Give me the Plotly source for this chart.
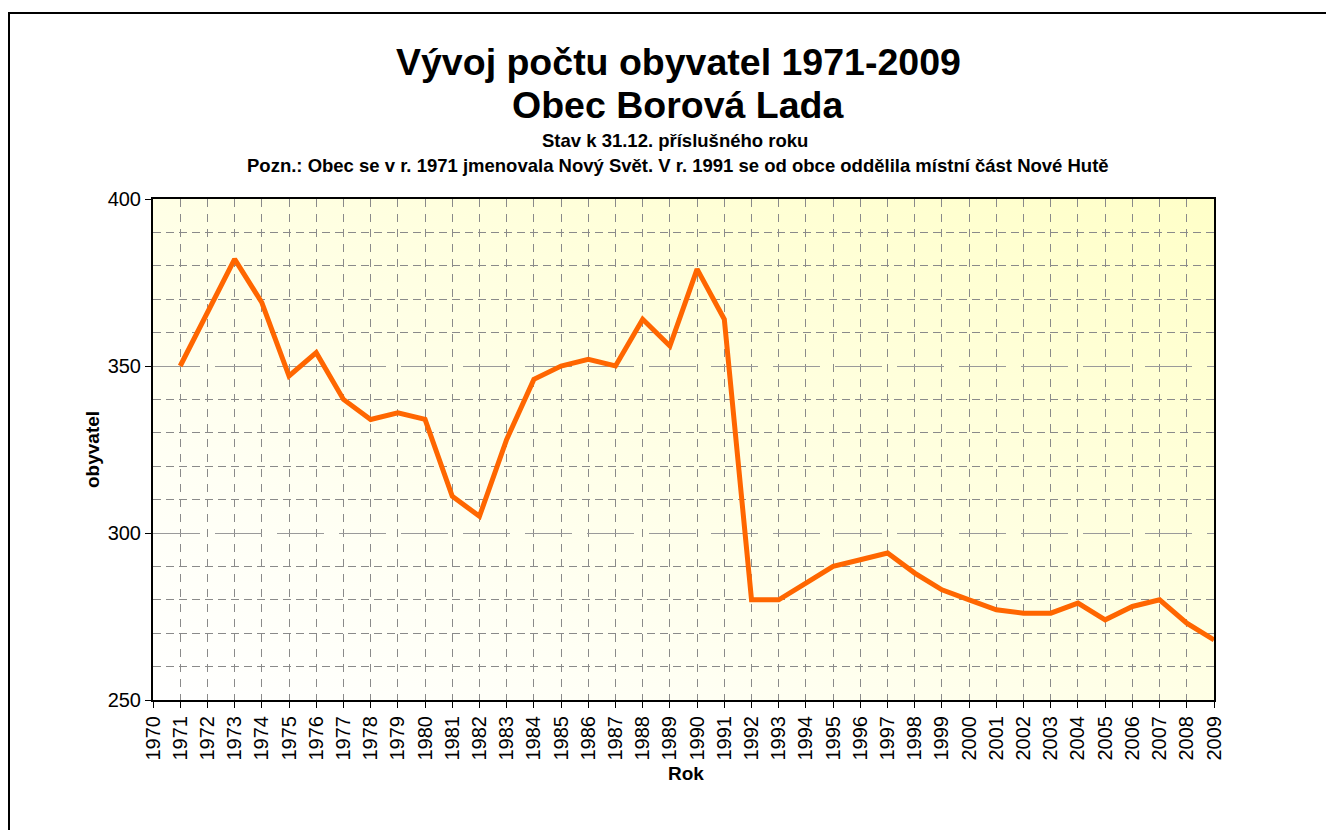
import base64
import plotly.graph_objects as go

years = list(range(1971, 2010))
population = [350, 366, 382, 369, 347, 354, 340, 334, 336, 334,
              311, 305, 328, 346, 350, 352, 350, 364, 356, 379,
              364, 280, 280, 285, 290, 292, 294, 288, 283, 280,
              277, 276, 276, 279, 274, 278, 280, 273, 268]
tick_years = list(range(1970, 2010))
y_ticks = [250, 300, 350, 400]
y_minor = [260, 270, 280, 290, 310, 320, 330, 340, 360, 370, 380, 390]

title1 = "Vývoj počtu obyvatel 1971-2009"
title2 = "Obec Borová Lada"
sub1 = "Stav k 31.12. příslušného roku"
sub2 = "Pozn.: Obec se v r. 1971 jmenovala Nový Svět. V r. 1991 se od obce oddělila místní část Nové Hutě"
x_title = "Rok"
y_title = "obyvatel"

FONT = "Liberation Sans, Arial, sans-serif"
W, H = 1334, 830
OFF = 8  # page body margin
L, T = 153 - OFF, 199 - OFF
pw, ph = 1214 - 153, 700 - 199
R = W - L - pw
B = H - T - ph

def sx(x):
    return (x - OFF - L) / pw

def sy(y):
    return (H - B - (y - OFF)) / ph

svg = ('<svg xmlns="http://www.w3.org/2000/svg" width="100" height="100" preserveAspectRatio="none">'
       '<defs><linearGradient id="g" x1="0" y1="1" x2="1" y2="0">'
       '<stop offset="0" stop-color="#FFFFFF"/><stop offset="0.25" stop-color="#FFFFF4"/>'
       '<stop offset="1" stop-color="#FFFFC8"/>'
       '</linearGradient></defs><rect width="100" height="100" fill="url(#g)"/></svg>')
svg_uri = "data:image/svg+xml;base64," + base64.b64encode(svg.encode()).decode()

fig = go.Figure()
fig.add_trace(go.Scatter(x=years, y=population, mode="lines",
                         line=dict(color="#FF6600", width=5), showlegend=False,
                         hoverinfo="x+y"))

grid_col = "#8a8a8a"

def ann(text, x, y, size, angle=0):
    return dict(text="<b>" + text + "</b>", x=sx(x), y=sy(y), xref="paper", yref="paper",
                showarrow=False, font=dict(size=size), textangle=angle,
                xanchor="center", yanchor="middle")

fig.update_layout(
    width=W, height=H,
    margin=dict(l=L, r=R, t=T, b=B),
    paper_bgcolor="white",
    plot_bgcolor="rgba(0,0,0,0)",
    font=dict(family=FONT, color="black"),
    images=[dict(source=svg_uri, xref="paper", yref="paper", x=0, y=1,
                 sizex=1, sizey=1, sizing="stretch", layer="below",
                 xanchor="left", yanchor="top")],
    xaxis=dict(range=[1970, 2009], tickmode="array", tickvals=tick_years,
               ticktext=[str(v) for v in tick_years], tickangle=-90,
               tickfont=dict(size=20), ticks="outside", ticklen=6, tickcolor="black",
               showline=True, linecolor="black", linewidth=2, mirror=True,
               showgrid=True, gridcolor=grid_col, gridwidth=1, griddash="8px,7px",
               zeroline=False),
    yaxis=dict(range=[250, 400], tickmode="array", tickvals=y_ticks,
               tickfont=dict(size=20), ticks="outside", ticklen=6, tickcolor="black",
               showline=True, linecolor="black", linewidth=2, mirror=True,
               showgrid=True, gridcolor="#9a9a9a", gridwidth=1.3, griddash="47px,15px",
               minor=dict(tickmode="array", tickvals=y_minor, showgrid=True,
                          gridcolor=grid_col, gridwidth=1, griddash="8px,5px", ticks=""),
               zeroline=False),
    shapes=[dict(type="rect", xref="paper", yref="paper",
                 x0=sx(9), x1=sx(1360), y0=sy(860), y1=sy(13),
                 line=dict(color="black", width=2), fillcolor="rgba(0,0,0,0)",
                 layer="below")],
    annotations=[
        ann(title1, 678, 62, 37.5),
        ann(title2, 678, 105, 37.5),
        ann(sub1, 675, 140, 18.5),
        ann(sub2, 678, 165, 18.5),
        ann(x_title, 686, 773, 19),
        ann(y_title, 92, 450, 19, -90),
    ],
)

fig.write_html("out.html")
